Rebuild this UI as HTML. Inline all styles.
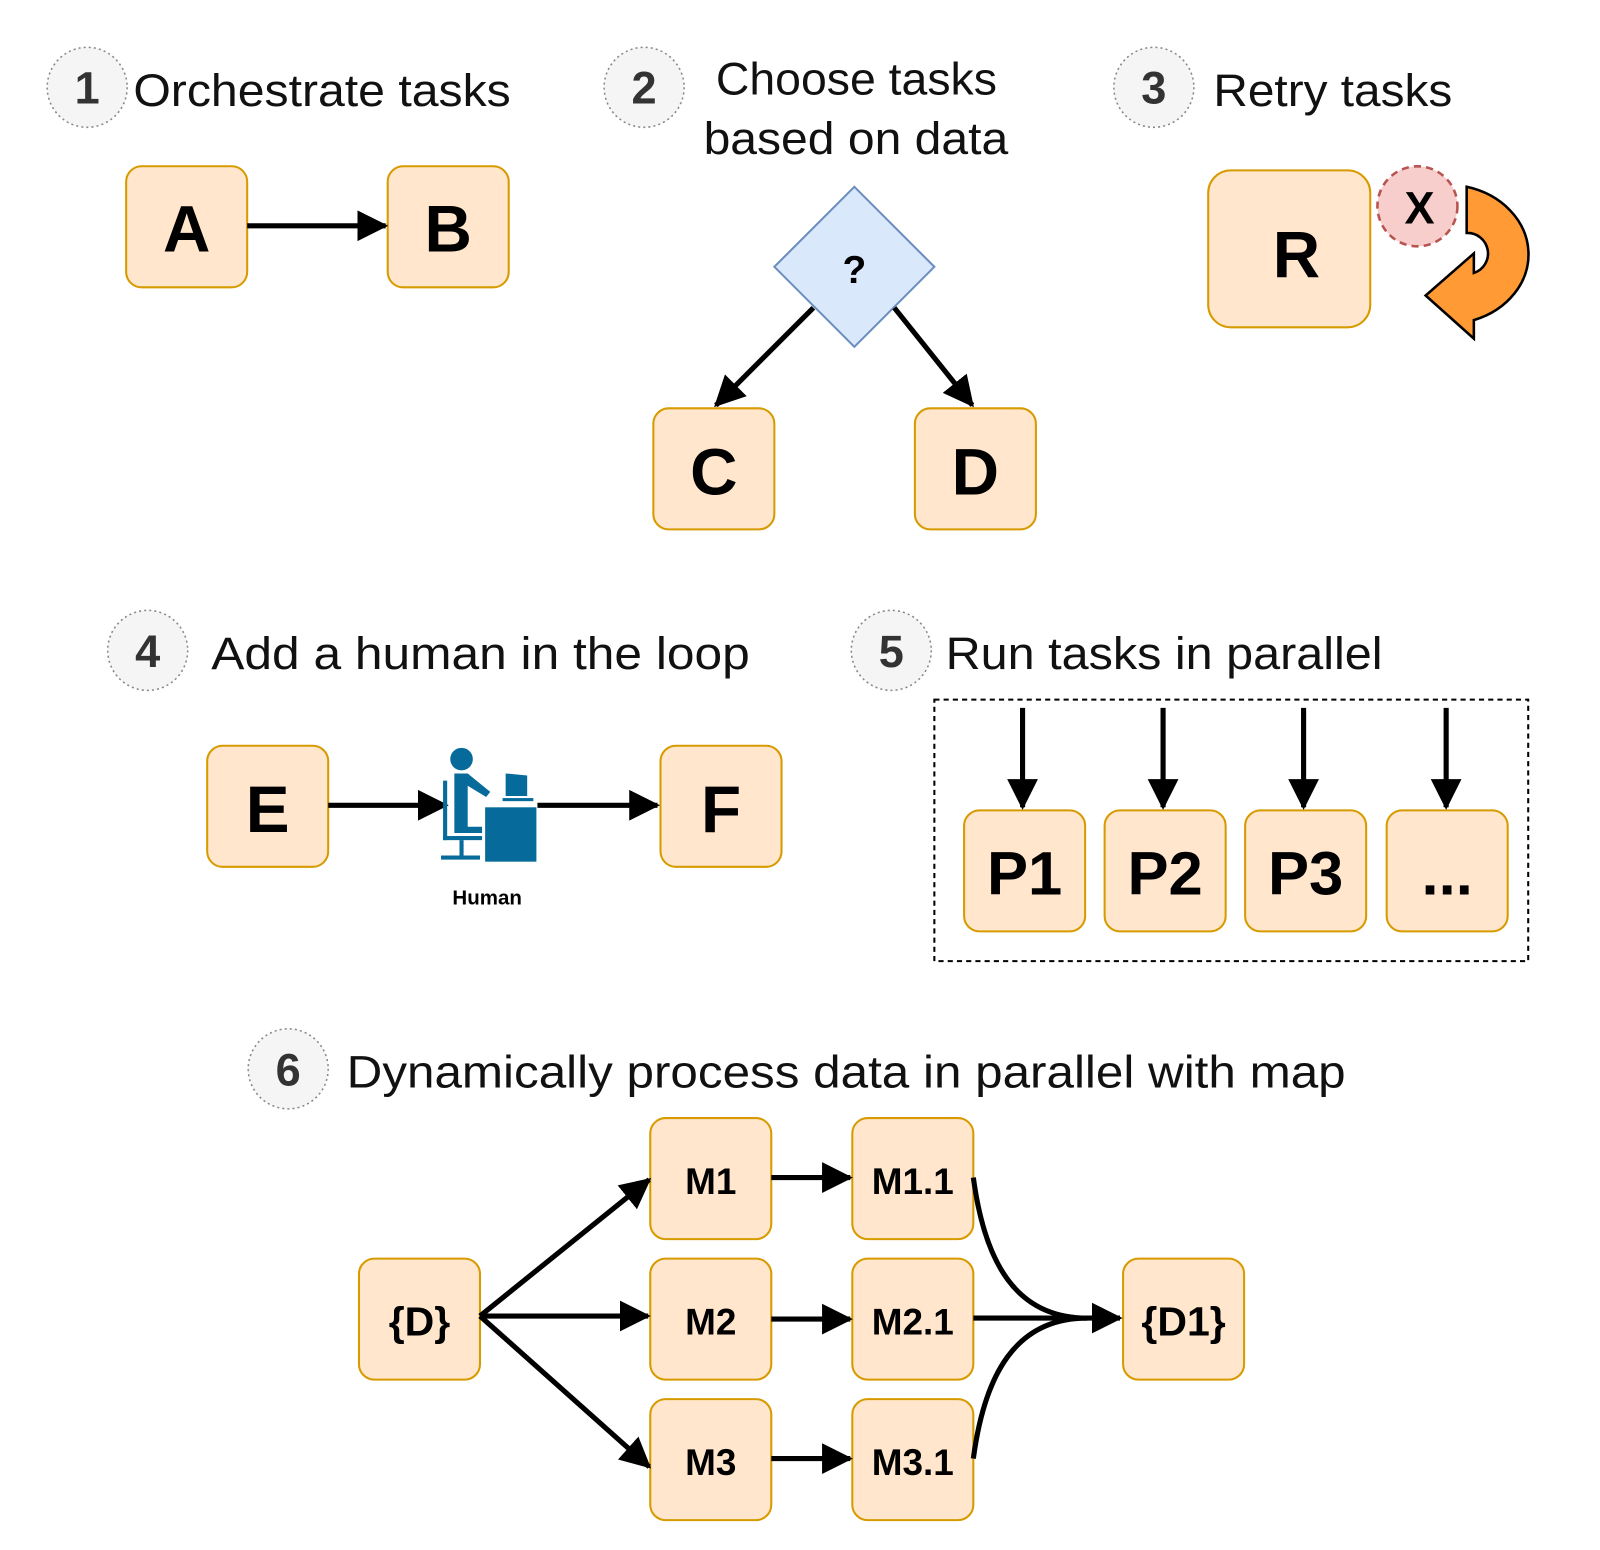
<!DOCTYPE html>
<html><head><meta charset="utf-8"><style>
html,body{margin:0;padding:0;background:#fff;}
svg{display:block;}
text{font-family:"Liberation Sans","DejaVu Sans",sans-serif;}
.box{fill:#ffe6cc;stroke:#d79b00;stroke-width:2;}
.num{fill:#f5f5f5;stroke:#888;stroke-width:1.5;stroke-dasharray:2 3;}
.nt{font-size:44px;font-weight:bold;fill:#333;text-anchor:middle;}
.tt{font-size:44px;fill:#111;}
.bl{font-weight:bold;text-anchor:middle;fill:#000;}
.ln{stroke:#000;stroke-width:5;fill:none;}
</style></head><body>
<svg width="1600" height="1550" viewBox="0 0 1560 1511" xmlns="http://www.w3.org/2000/svg">
<defs>
<marker id="ah" markerWidth="6" markerHeight="6" refX="5.5" refY="3" orient="auto" markerUnits="strokeWidth">
<path d="M0,0 L6,3 L0,6 Z" fill="#000"/>
</marker>
</defs>

<!-- 1 -->
<circle class="num" cx="85" cy="85" r="39"/><text class="nt" x="85" y="101">1</text>
<text class="tt" x="130" y="103" textLength="368" lengthAdjust="spacingAndGlyphs">Orchestrate tasks</text>
<rect class="box" x="123" y="162" width="118" height="118" rx="15"/><text class="bl" x="182" y="245" font-size="64">A</text>
<rect class="box" x="378" y="162" width="118" height="118" rx="15"/><text class="bl" x="437" y="245" font-size="64">B</text>
<line class="ln" x1="241" y1="220" x2="376" y2="220" marker-end="url(#ah)"/>

<!-- 2 -->
<circle class="num" cx="628" cy="85" r="39"/><text class="nt" x="628" y="101">2</text>
<text class="tt" x="698" y="92" textLength="274" lengthAdjust="spacingAndGlyphs">Choose tasks</text>
<text class="tt" x="686" y="150" textLength="297" lengthAdjust="spacingAndGlyphs">based on data</text>
<polygon points="833,182 911,260 833,338 755,260" fill="#dae8fc" stroke="#6c8ebf" stroke-width="2"/>
<text class="bl" x="833" y="276" font-size="38">?</text>
<rect class="box" x="637" y="398" width="118" height="118" rx="15"/><text class="bl" x="696" y="482" font-size="64">C</text>
<rect class="box" x="892" y="398" width="118" height="118" rx="15"/><text class="bl" x="951" y="482" font-size="64">D</text>
<line class="ln" x1="793" y1="300" x2="698" y2="395" marker-end="url(#ah)"/>
<line class="ln" x1="872" y1="300" x2="948" y2="395" marker-end="url(#ah)"/>

<!-- 3 -->
<circle class="num" cx="1125" cy="85" r="39"/><text class="nt" x="1125" y="101">3</text>
<text class="tt" x="1183" y="103" textLength="233" lengthAdjust="spacingAndGlyphs">Retry tasks</text>
<rect class="box" x="1178" y="166" width="158" height="153" rx="22"/><text class="bl" x="1264" y="270" font-size="64">R</text>
<circle cx="1382" cy="201" r="39" fill="#f8cecc" stroke="#b85450" stroke-width="2.5" stroke-dasharray="7 5"/>
<text class="bl" x="1384" y="218" font-size="44">X</text>
<path d="M1430,182 A80,68 0 0 1 1437,312 L1437,330 L1390,288 L1437,247 L1437,266 A20,20 0 0 0 1430,227 Z" fill="#ff9a35" stroke="#000" stroke-width="2.5" stroke-linejoin="miter"/>

<!-- 4 -->
<circle class="num" cx="144" cy="634" r="39"/><text class="nt" x="144" y="650">4</text>
<text class="tt" x="206" y="652" textLength="525" lengthAdjust="spacingAndGlyphs">Add a human in the loop</text>
<rect class="box" x="202" y="727" width="118" height="118" rx="15"/><text class="bl" x="261" y="811" font-size="64">E</text>
<rect class="box" x="644" y="727" width="118" height="118" rx="15"/><text class="bl" x="703" y="811" font-size="64">F</text>
<line class="ln" x1="320" y1="785" x2="435" y2="785" marker-end="url(#ah)"/>
<line class="ln" x1="524" y1="785" x2="641" y2="785" marker-end="url(#ah)"/>
<g fill="#066a9a">
<circle cx="450" cy="740" r="11"/>
<path d="M443,754 L456,754 L478,772 L474,777 L456,766 L456,806 L470,806 L470,812 L443,812 Z"/>
<rect x="432" y="761" width="4" height="58"/>
<rect x="432" y="815" width="38" height="4"/>
<rect x="448" y="819" width="4" height="18"/>
<rect x="430" y="834" width="38" height="4"/>
<rect x="473" y="787" width="50" height="53"/>
<path d="M493,754 L514,756 L514,776 L493,776 Z"/>
<rect x="490" y="778" width="30" height="3"/>
</g>
<text class="bl" x="475" y="882" font-size="20">Human</text>

<!-- 5 -->
<circle class="num" cx="869" cy="634" r="39"/><text class="nt" x="869" y="650">5</text>
<text class="tt" x="922" y="652" textLength="426" lengthAdjust="spacingAndGlyphs">Run tasks in parallel</text>
<rect x="911" y="682" width="579" height="255" fill="none" stroke="#000" stroke-width="2" stroke-dasharray="5 4"/>
<rect class="box" x="940" y="790" width="118" height="118" rx="15"/><text class="bl" x="999" y="872" font-size="60">P1</text>
<rect class="box" x="1077" y="790" width="118" height="118" rx="15"/><text class="bl" x="1136" y="872" font-size="60">P2</text>
<rect class="box" x="1214" y="790" width="118" height="118" rx="15"/><text class="bl" x="1273" y="872" font-size="60">P3</text>
<rect class="box" x="1352" y="790" width="118" height="118" rx="15"/><text class="bl" x="1411" y="872" font-size="60">...</text>
<line class="ln" x1="997" y1="690" x2="997" y2="787" marker-end="url(#ah)"/>
<line class="ln" x1="1134" y1="690" x2="1134" y2="787" marker-end="url(#ah)"/>
<line class="ln" x1="1271" y1="690" x2="1271" y2="787" marker-end="url(#ah)"/>
<line class="ln" x1="1410" y1="690" x2="1410" y2="787" marker-end="url(#ah)"/>

<!-- 6 -->
<circle class="num" cx="281" cy="1042" r="39"/><text class="nt" x="281" y="1058">6</text>
<text class="tt" x="338" y="1060" textLength="974" lengthAdjust="spacingAndGlyphs">Dynamically process data in parallel with map</text>
<rect class="box" x="350" y="1227" width="118" height="118" rx="15"/><text class="bl" x="409" y="1302" font-size="40">{D}</text>
<rect class="box" x="634" y="1090" width="118" height="118" rx="15"/><text class="bl" x="693" y="1164" font-size="36">M1</text>
<rect class="box" x="831" y="1090" width="118" height="118" rx="15"/><text class="bl" x="890" y="1164" font-size="36">M1.1</text>
<rect class="box" x="634" y="1227" width="118" height="118" rx="15"/><text class="bl" x="693" y="1301" font-size="36">M2</text>
<rect class="box" x="831" y="1227" width="118" height="118" rx="15"/><text class="bl" x="890" y="1301" font-size="36">M2.1</text>
<rect class="box" x="634" y="1364" width="118" height="118" rx="15"/><text class="bl" x="693" y="1438" font-size="36">M3</text>
<rect class="box" x="831" y="1364" width="118" height="118" rx="15"/><text class="bl" x="890" y="1438" font-size="36">M3.1</text>
<rect class="box" x="1095" y="1227" width="118" height="118" rx="15"/><text class="bl" x="1154" y="1302" font-size="40">{D1}</text>
<line class="ln" x1="468" y1="1283" x2="633" y2="1150" marker-end="url(#ah)"/>
<line class="ln" x1="468" y1="1283" x2="632" y2="1283" marker-end="url(#ah)"/>
<line class="ln" x1="468" y1="1283" x2="633" y2="1430" marker-end="url(#ah)"/>
<line class="ln" x1="752" y1="1148" x2="829" y2="1148" marker-end="url(#ah)"/>
<line class="ln" x1="752" y1="1286" x2="829" y2="1286" marker-end="url(#ah)"/>
<line class="ln" x1="752" y1="1422" x2="829" y2="1422" marker-end="url(#ah)"/>
<path class="ln" d="M949,1148 C960,1230 990,1285 1060,1285"/>
<path class="ln" d="M949,1422 C960,1340 990,1285 1060,1285"/>
<line class="ln" x1="949" y1="1285" x2="1092" y2="1285" marker-end="url(#ah)"/>
</svg>
</body></html>
